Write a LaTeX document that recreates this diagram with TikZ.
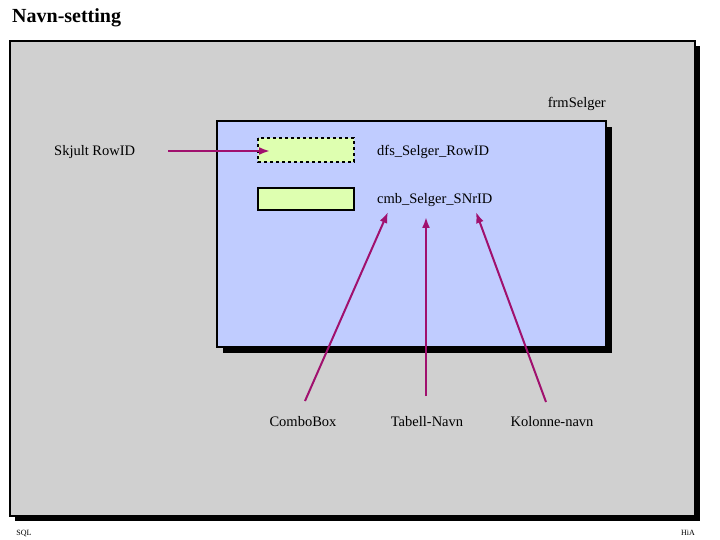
\documentclass[tikz,border=0pt]{standalone}
\usepackage{fontspec}
\setmainfont{Liberation Serif}
\usetikzlibrary{arrows.meta}
\definecolor{bg}{RGB}{208,208,208}
\definecolor{blu}{RGB}{192,204,255}
\definecolor{grn}{RGB}{222,255,176}
\definecolor{arr}{RGB}{160,16,110}
\begin{document}
\begin{tikzpicture}[x=1pt,y=-1pt,
  lbl/.style={font=\fontsize{14.5}{16}\selectfont, inner sep=0pt},
  ptr/.style={draw=arr, line width=2pt, -{Latex[length=11pt,width=8pt]}}]
\useasboundingbox (0,0) rectangle (720,540);
\node[anchor=west, font=\fontsize{20}{22}\selectfont\bfseries, inner sep=0pt] (title) at (12,18) {Navn-setting};
% frame
\fill[black] (15,46) rectangle (700,521);
\filldraw[fill=bg, draw=black, line width=1.2pt] (10,41) rectangle (695,516);
% form
\fill[black] (223,127) rectangle (612,353);
\filldraw[fill=blu, draw=black, line width=1.5pt] (217,121) rectangle (606,347);
\node[lbl, anchor=east] (frm) at (606,104) {frmSelger};
\draw[fill=grn, dashed, line width=1.6pt] (258,138) rectangle (354,162);
\coordinate (f1) at (270,151);
\node[fill=grn, draw, line width=1.6pt, minimum width=96pt, minimum height=22pt, inner sep=0pt] (f2) at (306,199) {};
\node[lbl, anchor=west] (dfs) at (377,152) {dfs\_Selger\_RowID};
\node[lbl, anchor=west] (cmb) at (377,200) {cmb\_Selger\_SNrID};
\node[lbl, anchor=west] (skj) at (54,152) {Skjult RowID};
\coordinate (s0) at (168,151);
\draw[ptr] (s0) -- (f1);
\node[lbl] (cb) at (303,422) {ComboBox};
\node[lbl] (tn) at (427,422) {Tabell-Navn};
\node[lbl] (kn) at (552,422) {Kolonne-navn};
\coordinate (a0) at (305,401); \coordinate (a1) at (388,212);
\coordinate (b0) at (426,396); \coordinate (b1) at (426,217);
\coordinate (c0) at (546,402); \coordinate (c1) at (476,212);
\draw[ptr] (a0) -- (a1);
\draw[ptr] (b0) -- (b1);
\draw[ptr] (c0) -- (c1);
\node[font=\fontsize{8}{9}\selectfont, inner sep=0pt] (sql) at (24,533) {SQL};
\node[font=\fontsize{8}{9}\selectfont, inner sep=0pt] (hia) at (688,533) {HiA};
\end{tikzpicture}
\end{document}
